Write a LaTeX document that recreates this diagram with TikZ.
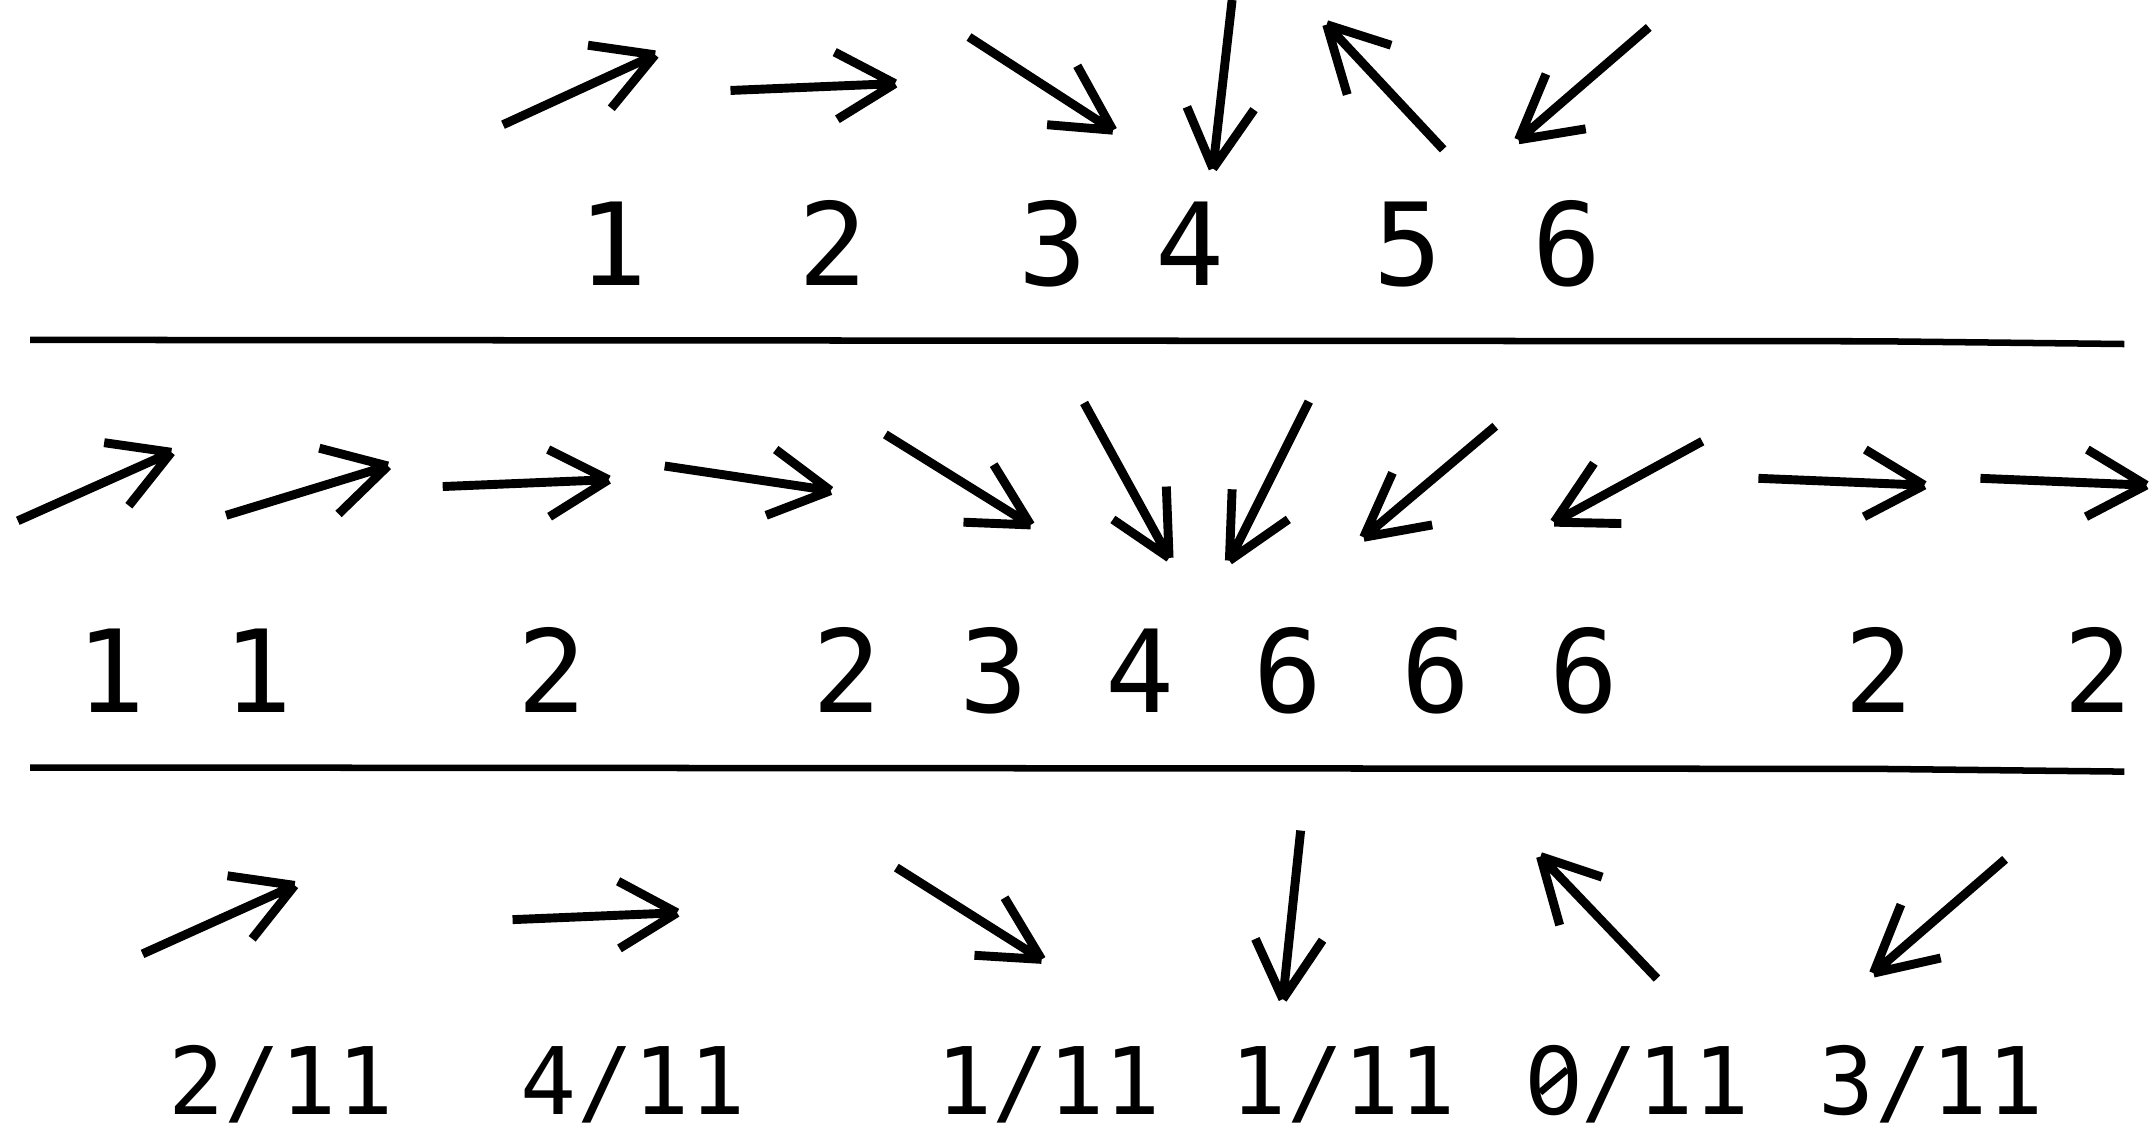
\documentclass[tikz,border=0pt]{standalone}
\usepackage{fontspec}
\setmonofont{DejaVu Sans Mono}
\newfontfamily\zerofont{DejaVu Sans}
\usetikzlibrary{positioning}

% one hand drawn vector: tail, tip, two barb ends
\newcommand{\vecarrow}[4]{\draw[vec] (#1) -- (#2) (#3) -- (#2) (#4) -- (#2);}

\begin{document}
\begin{tikzpicture}[
    x=0.02cm, y=-0.02cm,
    % vectors
    vec/.style={line width=0.13cm, line cap=butt},
    % separating rules
    rule/.style={line width=0.095cm},
    % counts and fractions
    count/.style={font=\ttfamily\fontsize{47.6}{50}\selectfont, anchor=base, inner sep=0pt},
    ratio/.style={font=\ttfamily\fontsize{38.7}{40}\selectfont, anchor=base, inner sep=0pt},
    zslash/.style={line width=0.1cm, line cap=butt}
]
    \useasboundingbox (0,0) rectangle (1568,822);

    % Row 1: six vectors
    \vecarrow{367,91}{478,40}{429,33}{446,79}
    \vecarrow{533,66}{653,61}{609,38}{611,87}
    \vecarrow{707,27}{812,95}{786,48}{764,91}
    \vecarrow{899,0}{885,123}{866,78}{915,80}
    \vecarrow{1053,109}{968,18}{1015,33}{983,69}
    \vecarrow{1203,20}{1108,102}{1128,54}{1157,94}

    \node[count] (c1) at (447,208) {1};
    \node[count] (c2) at (608,208) {2};
    \node[count] (c3) at (768,208) {3};
    \node[count] (c4) at (868,208) {4};
    \node[count] (c5) at (1027,208) {5};
    \node[count] (c6) at (1143,208) {6};

    \draw[rule] (22,248) -- (1370,249) -- (1550,251);

    % Row 2: eleven vectors
    \vecarrow{13,380}{125,330}{76,323}{94,369}
    \vecarrow{165,376}{283,340}{233,327}{247,375}
    \vecarrow{323,355}{444,350}{400,328}{401,377}
    \vecarrow{485,340}{606,358}{566,328}{559,376}
    \vecarrow{646,317}{752,383}{725,339}{703,381}
    \vecarrow{791,294}{853,407}{851,355}{812,379}
    \vecarrow{955,293}{897,409}{899,357}{940,379}
    \vecarrow{1091,311}{995,392}{1016,345}{1045,383}
    \vecarrow{1242,322}{1134,381}{1163,338}{1183,382}
    \vecarrow{1283,349}{1404,354}{1361,328}{1360,377}
    \vecarrow{1445,349}{1566,354}{1523,328}{1522,377}

    \node[count] (d1) at (81,520) {1};
    \node[count] (d2) at (188,520) {1};
    \node[count] (d3) at (403,520) {2};
    \node[count] (d4) at (618,520) {2};
    \node[count] (d5) at (725,520) {3};
    \node[count] (d6) at (832,520) {4};
    \node[count] (d7) at (940,520) {6};
    \node[count] (d8) at (1048,520) {6};
    \node[count] (d9) at (1156,520) {6};
    \node[count] (d10) at (1371,520) {2};
    \node[count] (d11) at (1531,520) {2};

    \draw[rule] (22,560) -- (1370,561) -- (1550,563);

    % Row 3: six vectors with their shares
    \vecarrow{104,696}{215,646}{166,639}{184,685}
    \vecarrow{374,671}{494,666}{451,643}{452,692}
    \vecarrow{654,633}{760,700}{733,655}{711,697}
    \vecarrow{949,606}{936,729}{916,685}{965,686}
    \vecarrow{1209,714}{1124,625}{1169,640}{1138,675}
    \vecarrow{1463,627}{1367,710}{1387,660}{1416,699}

    \node[ratio] (r1) at (205,813) {2/11};
    \node[ratio] (r2) at (462,813) {4/11};
    \node[ratio] (r3) at (765,813) {1/11};
    \node[ratio] (r4) at (980,813) {1/11};
    \node[ratio] (r5) at (1195,813) {\makebox[0.602em]{\zerofont 0}/11};
    \node[ratio] (r6) at (1409,813) {3/11};
    % slashed zero
    \draw[zslash] ([shift={(10.9,-15.9)}]r5.base west) -- ([shift={(30.8,-32.7)}]r5.base west);
\end{tikzpicture}
\end{document}
